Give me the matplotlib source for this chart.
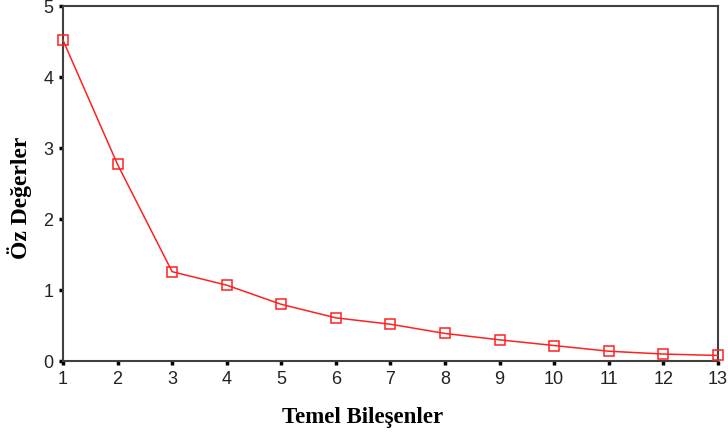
import numpy as np
import matplotlib
matplotlib.use("Agg")
import matplotlib.pyplot as plt

plt.rcParams["font.family"] = "Liberation Sans"

# scree plot data
components = [1, 2, 3, 4, 5, 6, 7, 8, 9, 10, 11, 12, 13]
eigenvalues = [4.52, 2.77, 1.26, 1.07, 0.80, 0.61, 0.52, 0.39, 0.30, 0.22, 0.14, 0.10, 0.08]
yticks = [0, 1, 2, 3, 4, 5]

line_color = '#FF2020'
spine_color = '#404040'

fig = plt.figure(figsize=(7.28, 4.32), dpi=100)
ax = fig.add_axes([0.0865, 0.164, 0.8995, 0.822])

ax.plot(components, eigenvalues, color=line_color, lw=1.1, marker='s',
        markersize=7, markerfacecolor='none', markeredgecolor=line_color,
        markeredgewidth=1.1, clip_on=False, zorder=3)

ax.set_xlim(1, 13)
ax.set_ylim(0, 5)
ax.set_xticks(components)
ax.set_yticks(yticks)
ax.tick_params(direction='out', length=3, width=2.5, color='black',
               labelsize=13, labelcolor='#222222', pad=4)

for s in ax.spines.values():
    s.set_color(spine_color)
    s.set_linewidth(1.5)

ax.set_xlabel('Temel Bileşenler', fontfamily='Liberation Serif', fontweight='bold',
              fontsize=16.5)
ax.xaxis.set_label_coords(0.458, -0.13)
ax.set_ylabel('Öz Değerler', fontfamily='Liberation Serif', fontweight='bold',
              fontsize=17)
ax.yaxis.set_label_coords(-0.047, 0.46)

plt.savefig("out.png", dpi=100)
